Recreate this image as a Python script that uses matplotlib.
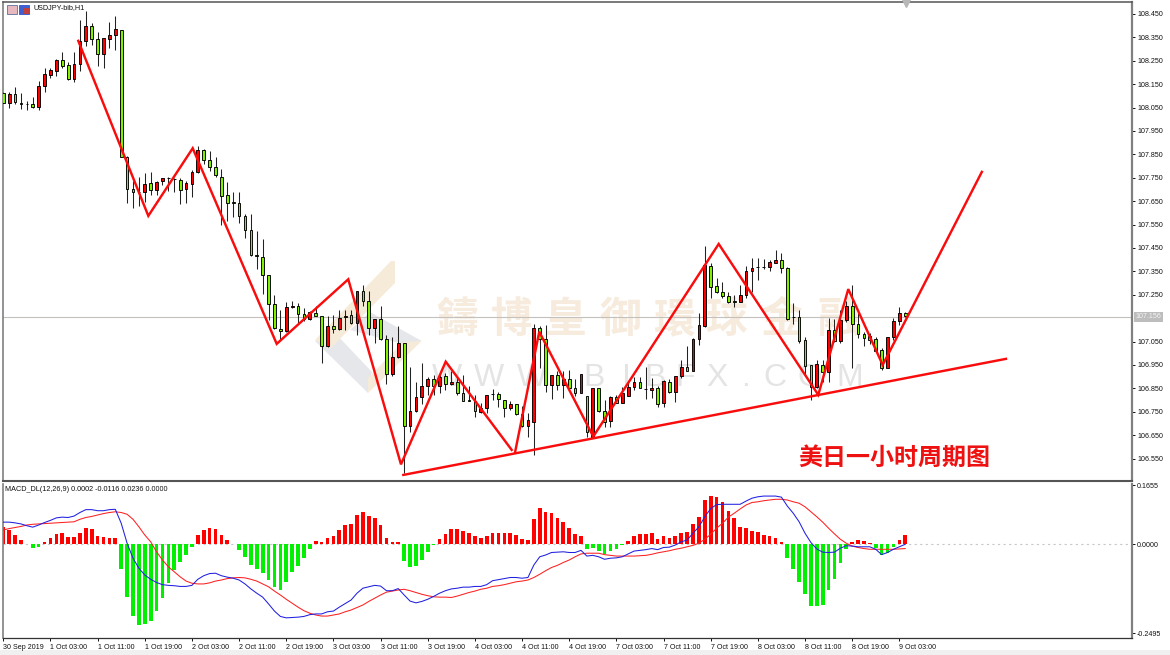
import matplotlib
matplotlib.use("Agg")
import matplotlib.pyplot as plt
from matplotlib.patches import Polygon, Rectangle
import numpy as np

opens = [108.111,108.071,108.107,108.068,108.065,108.064,108.051,108.141,108.191,108.208,108.252,108.231,108.171,108.235,108.336,108.399,108.342,108.278,108.345,108.358,
 108.380,107.840,107.702,107.689,107.691,107.729,107.698,107.738,107.749,107.746,107.739,107.701,107.725,107.774,107.869,107.824,107.795,107.755,107.675,107.645,
 107.641,107.586,107.526,107.419,107.413,107.334,107.210,107.104,107.093,107.197,107.201,107.167,107.146,107.171,107.158,107.029,107.117,107.103,107.153,107.164,
 107.128,107.264,107.224,107.108,107.145,107.060,106.912,106.983,107.043,106.689,106.755,106.815,106.860,106.889,106.858,106.903,106.869,106.878,106.829,106.799,
 106.798,106.751,106.768,106.826,106.825,106.801,106.768,106.781,106.741,106.691,106.708,107.107,107.061,106.865,106.907,106.865,106.889,106.853,106.829,106.819,
 106.644,106.850,106.755,106.712,106.812,106.789,106.819,106.857,106.876,106.848,106.842,106.853,106.786,106.879,106.836,106.903,106.943,106.924,107.060,107.118,
 107.372,107.288,107.262,107.245,107.222,107.221,107.249,107.353,107.370,107.370,107.369,107.385,107.397,107.366,107.155,107.154,107.057,106.949,106.857,106.950,
 106.921,107.100,107.054,107.142,107.202,107.124,107.082,107.074,107.060,107.013,106.937,107.068,107.138,107.174]
closes = [108.071,108.107,108.075,108.066,108.063,108.051,108.141,108.192,108.211,108.252,108.228,108.171,108.235,108.336,108.399,108.342,108.278,108.346,108.359,108.385,
 107.840,107.702,107.687,107.691,107.725,107.698,107.731,107.748,107.747,107.744,107.699,107.726,107.773,107.869,107.827,107.795,107.760,107.673,107.644,107.643,
 107.586,107.527,107.419,107.417,107.334,107.210,107.106,107.093,107.197,107.201,107.168,107.146,107.175,107.158,107.029,107.117,107.103,107.150,107.161,107.128,
 107.264,107.224,107.108,107.146,107.060,106.912,106.983,107.043,106.689,106.755,106.812,106.858,106.889,106.858,106.900,106.868,106.878,106.829,106.798,106.797,
 106.755,106.765,106.822,106.824,106.803,106.768,106.781,106.739,106.687,106.715,107.107,107.060,106.865,106.907,106.863,106.889,106.850,106.829,106.910,106.662,
 106.850,106.755,106.708,106.812,106.789,106.829,106.857,106.876,106.853,106.846,106.853,106.783,106.883,106.836,106.903,106.941,106.924,107.060,107.121,107.375,
 107.285,107.261,107.245,107.218,107.220,107.249,107.353,107.366,107.368,107.368,107.389,107.397,107.366,107.147,107.153,107.054,106.946,106.857,106.953,106.921,
 107.100,107.053,107.142,107.202,107.124,107.081,107.063,107.057,107.011,106.937,107.070,107.138,107.171,107.157]
highs = [108.117,108.115,108.137,108.111,108.080,108.097,108.164,108.218,108.218,108.256,108.289,108.244,108.286,108.425,108.463,108.410,108.372,108.349,108.415,108.442,
 108.380,107.843,107.734,107.755,107.772,107.775,107.734,107.751,107.755,107.748,107.751,107.734,107.783,107.884,107.874,107.865,107.838,107.787,107.730,107.691,
 107.688,107.596,107.596,107.524,107.487,107.336,107.250,107.185,107.221,107.225,107.214,107.193,107.181,107.200,107.161,107.160,107.164,107.185,107.185,107.185,
 107.268,107.292,107.264,107.146,107.202,107.078,107.068,107.118,107.043,106.940,106.879,106.960,106.897,106.907,106.915,106.917,106.922,106.900,106.907,106.858,
 106.822,106.789,106.822,106.846,106.836,106.801,106.798,106.784,106.775,106.746,107.125,107.117,107.121,106.907,106.922,106.926,106.929,106.889,106.912,106.819,
 106.850,106.850,106.800,106.819,106.822,106.857,106.879,106.897,106.900,106.940,106.893,106.860,106.886,106.890,106.904,106.971,107.031,107.064,107.174,107.459,
 107.387,107.320,107.306,107.261,107.249,107.292,107.373,107.406,107.406,107.403,107.399,107.442,107.427,107.370,107.214,107.185,107.071,106.950,106.971,106.971,
 107.149,107.145,107.185,107.225,107.292,107.171,107.092,107.085,107.071,107.021,107.070,107.149,107.199,107.177]
lows = [108.068,108.050,108.065,108.043,108.040,108.050,108.040,108.118,108.178,108.185,108.218,108.168,108.158,108.207,108.315,108.318,108.229,108.218,108.303,108.296,
 107.840,107.641,107.620,107.631,107.648,107.677,107.677,107.719,107.695,107.691,107.637,107.641,107.669,107.771,107.809,107.777,107.755,107.549,107.567,107.581,
 107.556,107.492,107.416,107.359,107.254,107.143,107.104,107.057,107.089,107.193,107.128,107.136,107.143,107.157,106.960,107.026,107.088,107.100,107.100,107.126,
 107.079,107.200,107.079,107.043,107.057,106.869,106.903,106.979,106.487,106.665,106.751,106.784,106.822,106.822,106.829,106.841,106.865,106.822,106.794,106.794,
 106.729,106.746,106.746,106.801,106.772,106.727,106.758,106.737,106.684,106.644,106.566,106.936,106.836,106.803,106.841,106.810,106.843,106.819,106.829,106.644,
 106.641,106.751,106.686,106.686,106.786,106.786,106.819,106.843,106.850,106.803,106.808,106.772,106.772,106.829,106.793,106.893,106.922,106.924,107.035,107.114,
 107.235,107.256,107.238,107.216,107.199,107.221,107.235,107.263,107.313,107.359,107.353,107.385,107.342,107.142,107.125,107.045,106.907,106.800,106.850,106.879,
 106.879,107.050,107.043,107.135,106.936,107.064,107.033,107.040,107.007,106.929,106.936,107.057,107.121,107.156]

macd_hist = [.0495,.0401,.0261,.0121,.0019,-.0093,-.0065,.0065,.0168,.0289,.0308,.0205,.0205,.0327,.0448,.0420,.0243,.0205,.0187,.0168,
 -.0700,-.1483,-.1997,-.2249,-.2221,-.2146,-.1875,-.1493,-.1073,-.0718,-.0485,-.0299,-.0065,.0261,.0411,.0457,.0429,.0261,.0121,.0009,
 -.0168,-.0355,-.0578,-.0690,-.0802,-.0998,-.1194,-.1278,-.1054,-.0774,-.0597,-.0373,-.0131,.0084,.0065,.0177,.0233,.0392,.0541,.0569,
 .0821,.0896,.0793,.0746,.0541,.0187,.0056,.0056,-.0467,-.0634,-.0606,-.0439,-.0215,-.0019,.0159,.0289,.0420,.0420,.0373,.0308,
 .0233,.0177,.0243,.0317,.0327,.0308,.0327,.0261,.0159,.0121,.0700,.1008,.0905,.0868,.0728,.0634,.0467,.0289,.0233,-.0140,
 -.0093,-.0187,-.0280,-.0196,-.0121,-.0019,.0093,.0243,.0289,.0289,.0308,.0159,.0233,.0168,.0233,.0308,.0345,.0560,.0765,.1232,
 .1353,.1316,.1176,.0942,.0728,.0495,.0448,.0373,.0336,.0261,.0224,.0187,.0065,-.0373,-.0700,-.1045,-.1400,-.1726,-.1726,-.1698,
 -.1269,-.0961,-.0532,-.0131,.0056,.0121,.0103,.0037,-.0093,-.0289,-.0233,-.0084,.0121,.0252]
macd_main = [.062,.062,.060,.057,.052,.048,.054,.061,.067,.074,.076,.075,.079,.089,.097,.097,.094,.094,.097,.098,
 .059,.003,-.039,-.067,-.086,-.098,-.107,-.113,-.115,-.116,-.118,-.118,-.115,-.098,-.088,-.082,-.081,-.088,-.092,-.095,
 -.100,-.111,-.125,-.137,-.148,-.167,-.187,-.202,-.206,-.205,-.204,-.202,-.197,-.195,-.195,-.189,-.187,-.176,-.166,-.156,
 -.137,-.123,-.119,-.115,-.117,-.130,-.130,-.124,-.142,-.159,-.164,-.160,-.154,-.146,-.137,-.130,-.125,-.123,-.120,-.120,
 -.118,-.118,-.113,-.102,-.099,-.096,-.093,-.093,-.095,-.093,-.058,-.035,-.030,-.023,-.022,-.021,-.023,-.023,-.017,-.033,
 -.031,-.035,-.042,-.039,-.038,-.035,-.027,-.019,-.017,-.015,-.012,-.015,-.009,-.008,-.002,.007,.012,.031,.049,.077,
 .100,.111,.112,.112,.112,.112,.121,.129,.133,.135,.135,.135,.132,.107,.087,.063,.031,.005,-.013,-.022,
 -.023,-.022,-.011,-.004,-.005,-.007,-.007,-.007,-.014,-.029,-.023,-.014,-.007,.000]
macd_signal = [.040,.044,.047,.050,.054,.056,.057,.058,.059,.060,.061,.062,.063,.070,.075,.078,.082,.086,.089,.091,
 .089,.084,.070,.049,.026,.007,-.021,-.044,-.063,-.077,-.091,-.103,-.109,-.111,-.111,-.108,-.103,-.100,-.096,-.094,
 -.093,-.094,-.098,-.103,-.111,-.119,-.131,-.142,-.154,-.165,-.176,-.186,-.193,-.198,-.201,-.201,-.198,-.195,-.189,-.184,
 -.177,-.170,-.160,-.151,-.142,-.134,-.131,-.128,-.126,-.130,-.135,-.140,-.144,-.147,-.148,-.148,-.149,-.145,-.140,-.135,
 -.131,-.126,-.123,-.118,-.116,-.113,-.109,-.105,-.103,-.100,-.093,-.084,-.074,-.065,-.059,-.051,-.044,-.035,-.027,-.025,
 -.025,-.025,-.029,-.031,-.033,-.033,-.033,-.033,-.032,-.031,-.028,-.024,-.021,-.018,-.014,-.011,-.007,-.003,.003,.014,
 .028,.045,.059,.076,.087,.099,.110,.117,.119,.122,.124,.126,.126,.124,.119,.115,.105,.091,.077,.062,
 .045,.029,.014,.003,-.005,-.009,-.012,-.014,-.014,-.014,-.014,-.014,-.013,-.012]

wave1_x = [12.72,24.6,32.13,46.38,58.52,67.46,75.05,86.24]
wave1_y = [108.335,107.587,107.876,107.040,107.316,106.525,106.964,106.587]
wave2_x = [86.8,90.92,100.08,121.36,138.25,143.34,149.18,166.0]
wave2_y = [106.575,107.092,106.644,107.467,106.822,107.274,106.950,107.775]
trend_x = [67.86,170.09]
trend_y = [106.480,106.976]

current_price = 107.156
price_ticks = [108.45,108.35,108.25,108.15,108.05,107.95,107.85,107.75,107.65,107.55,107.45,107.35,107.25,107.05,106.95,106.85,106.75,106.65,106.55]
macd_ticks = [0.1655,0.0,-0.2495]
time_ticks = list(range(0,153,8))
time_labels = ["30 Sep 2019","1 Oct 03:00","1 Oct 11:00","1 Oct 19:00","2 Oct 03:00","2 Oct 11:00","2 Oct 19:00","3 Oct 03:00","3 Oct 11:00","3 Oct 19:00",
 "4 Oct 03:00","4 Oct 11:00","4 Oct 19:00","7 Oct 03:00","7 Oct 11:00","7 Oct 19:00","8 Oct 03:00","8 Oct 11:00","8 Oct 19:00","9 Oct 03:00"]

W, H = 1170, 655
SMALL = "Liberation Sans"
CJK = ["Noto Sans CJK TC", "DejaVu Sans"]
fig = plt.figure(figsize=(W/100, H/100), dpi=100, facecolor="white")

def rect(l, t, r, b):
    return [l/W, 1-b/H, (r-l)/W, (b-t)/H]

bg = fig.add_axes([0,0,1,1], zorder=0)
bg.set_xlim(0,W); bg.set_ylim(H,0); bg.axis("off")
bg.add_patch(Rectangle((0,650),W,5,fc="#f0f0f0",ec="none"))
tan, grey = "#f6ebd8", "#e6e7ea"
bg.add_patch(Polygon([(315,341),(335,333),(372,372),(368,393)],fc=grey,ec="none"))
bg.add_patch(Polygon([(350,330),(370,312),(421.7,341),(403,344)],fc=grey,ec="none"))
bg.add_patch(Polygon([(391,261),(395,261),(395,283),(331,348),(315,340)],fc=tan,ec="none"))
bg.add_patch(Polygon([(421.7,341),(368,393),(368,378),(403,342)],fc=tan,ec="none"))
for cx, ch in zip([457,512,566,620,674,726,781,838], "鑄博皇御環球金融"):
    bg.text(cx,320,ch,family=CJK,fontsize=30,fontweight="bold",color="#f6ebdc",ha="center",va="center")
for cx, ch in zip([447,489,532,564,594,626,655,685,717,745,775,810,850],"WWW.BIBFX.COM"):
    bg.text(cx,378,ch,family="Liberation Sans",fontsize=23,color="#e4e4e4",ha="center",va="center")

ax = fig.add_axes(rect(3,2,1132,481), zorder=1)
ax2 = fig.add_axes(rect(3,483.5,1132,638), zorder=1)
for a in (ax,ax2):
    a.patch.set_visible(False)
    a.set_xlim(-0.051,191.47)
ax.set_ylim(106.454,108.501)
ax2.set_ylim(-0.2624,0.1702)

idx = np.arange(len(opens))
o,c,h,l = map(np.array,(opens,closes,highs,lows))
ax.axhline(current_price,color="#c4c0bc",lw=0.8,zorder=1)
ax.vlines(idx,l,h,color="#222222",lw=0.75,zorder=2)
up = c>=o
ax.bar(idx,np.abs(c-o),bottom=np.minimum(o,c),width=0.46,
       color=np.where(up,"#ff0000","#80f000"),edgecolor="black",linewidth=0.65,zorder=3)
for xs,ys in ((wave1_x,wave1_y),(wave2_x,wave2_y),(trend_x,trend_y)):
    ax.plot(xs,ys,color="#fa0c0c",lw=1.75,zorder=5,solid_joinstyle="miter")
ax.plot([153.1],[108.501],marker="v",color="#b8b8b8",ms=7,clip_on=False,zorder=5)

mh = np.array(macd_hist)
ax2.axhline(0,color="#c8c8c8",lw=0.8,ls=(0,(2,3)),zorder=1)
ax2.bar(idx,mh,width=0.62,color=np.where(mh>=0,"#ff0000","#00f000"),zorder=2)
ax2.plot(idx,macd_signal,color="#ff2020",lw=0.75,zorder=3)
ax2.plot(idx,macd_main,color="#2020e0",lw=0.75,zorder=4)

ax.yaxis.tick_right()
ax.set_yticks(price_ticks,[f"{v:.3f}" for v in price_ticks])
ax.set_xticks([])
ax2.yaxis.tick_right()
ax2.set_yticks(macd_ticks,[f"{v:.4f}" for v in macd_ticks])
ax2.set_xticks(time_ticks,time_labels)
for a in (ax,ax2):
    a.tick_params(axis="y",length=2.2,width=0.7,pad=1.5,labelsize=5.1,colors="#111111")
    for t in a.get_yticklabels(): t.set_family(SMALL)
    a.spines["left"].set(color="#808080",lw=1.2)
    a.spines["right"].set(color="#808080",lw=1.6)
    a.spines["top"].set(color="#555555",lw=1.1)
ax.spines["bottom"].set(color="#555555",lw=1.5)
ax2.spines["top"].set_visible(False)
ax2.spines["bottom"].set(color="#333333",lw=0.9)
ax2.tick_params(axis="x",length=2.5,width=0.7,pad=2,labelsize=5.1,colors="#111111")
for t in ax2.get_xticklabels():
    t.set_family(SMALL); t.set_ha("left")

ax.text(1.003,current_price,f"{current_price:.3f}",transform=ax.get_yaxis_transform(),fontsize=5.1,family=SMALL,
        color="#f4f4f4",ha="left",va="center",bbox=dict(fc="#bdbdbd",ec="none",pad=1.2))

top = fig.add_axes([0,0,1,1],zorder=5); top.set_xlim(0,W); top.set_ylim(H,0); top.axis("off"); top.patch.set_visible(False)
top.text(33,8,"USDJPY-bib,H1",fontsize=5.2,family=SMALL,color="#111111",va="center")
top.text(5,489.5,"MACD_DL(12,26,9) 0.0002 -0.0116 0.0236 0.0000",fontsize=5.2,family=SMALL,color="#111111",va="center")
top.add_patch(Rectangle((7,4.5),9.5,9,fc="#e8b8c0",ec="#7080a0",lw=0.7))
top.add_patch(Rectangle((19,4.5),10,9,fc="#4060d0",ec="#4060d0",lw=0.7))
top.add_patch(Rectangle((24,8),5,5.5,fc="#c04040",ec="none"))
top.text(894,458,"美日一小时周期图",family=CJK,fontsize=17.3,fontweight="bold",color="#ee1111",ha="center",va="center")

fig.savefig("out.png",dpi=100)
